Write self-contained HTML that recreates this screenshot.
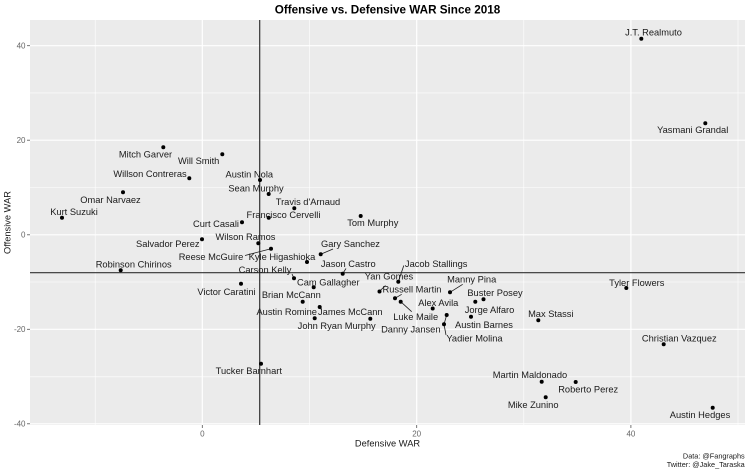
<!DOCTYPE html>
<html><head><meta charset="utf-8"><style>
html,body{margin:0;padding:0;background:#fff;}
svg{display:block;}
text{font-family:"Liberation Sans",Arial,sans-serif;}
.l{font-size:9.3px;fill:#1a1a1a;text-anchor:middle;}
.t{font-size:8px;fill:#666;}
</style></head><body>
<svg width="748" height="470" viewBox="0 0 748 470" xmlns="http://www.w3.org/2000/svg">
<rect x="0" y="0" width="748" height="470" fill="#fff"/>
<rect x="30" y="20" width="715" height="405" fill="#ebebeb"/>
<!-- minor grid -->
<g stroke="#fff" stroke-width="0.6">
<line x1="95.2" y1="20" x2="95.2" y2="425"/>
<line x1="309.5" y1="20" x2="309.5" y2="425"/>
<line x1="523.8" y1="20" x2="523.8" y2="425"/>
<line x1="738" y1="20" x2="738" y2="425"/>
<line x1="30" y1="92.9" x2="745" y2="92.9"/>
<line x1="30" y1="187.5" x2="745" y2="187.5"/>
<line x1="30" y1="282" x2="745" y2="282"/>
<line x1="30" y1="376.8" x2="745" y2="376.8"/>
</g>
<!-- major grid -->
<g stroke="#fff" stroke-width="1.2">
<line x1="202.3" y1="20" x2="202.3" y2="425"/>
<line x1="416.7" y1="20" x2="416.7" y2="425"/>
<line x1="630.9" y1="20" x2="630.9" y2="425"/>
<line x1="30" y1="45.7" x2="745" y2="45.7"/>
<line x1="30" y1="140.2" x2="745" y2="140.2"/>
<line x1="30" y1="234.8" x2="745" y2="234.8"/>
<line x1="30" y1="329.3" x2="745" y2="329.3"/>
<line x1="30" y1="423.8" x2="745" y2="423.8"/>
</g>
<!-- reference lines -->
<line x1="259.7" y1="20" x2="259.7" y2="425" stroke="#333" stroke-width="1.2"/>
<line x1="30" y1="272.7" x2="745" y2="272.7" stroke="#333" stroke-width="1.2"/>
<!-- ticks -->
<g stroke="#555" stroke-width="0.8">
<line x1="27" y1="45.7" x2="30" y2="45.7"/>
<line x1="27" y1="140.2" x2="30" y2="140.2"/>
<line x1="27" y1="234.8" x2="30" y2="234.8"/>
<line x1="27" y1="329.3" x2="30" y2="329.3"/>
<line x1="27" y1="423.8" x2="30" y2="423.8"/>
<line x1="202.3" y1="425" x2="202.3" y2="428"/>
<line x1="416.7" y1="425" x2="416.7" y2="428"/>
<line x1="630.9" y1="425" x2="630.9" y2="428"/>
</g>
<g class="t" text-anchor="end">
<text x="25.5" y="48.6">40</text>
<text x="25.5" y="143.1">20</text>
<text x="25.5" y="237.7">0</text>
<text x="25.5" y="332.2">-20</text>
<text x="25.5" y="426.7">-40</text>
</g>
<g class="t" text-anchor="middle">
<text x="202.3" y="436.5">0</text>
<text x="416.7" y="436.5">20</text>
<text x="630.9" y="436.5">40</text>
</g>
<!-- segments -->
<g stroke="#1a1a1a" stroke-width="0.8" fill="none">
<line x1="245" y1="255.5" x2="271" y2="248.7"/>
<line x1="320.7" y1="254.3" x2="333" y2="249"/>
<line x1="342.7" y1="273.7" x2="346" y2="268.5"/>
<line x1="292" y1="274" x2="294" y2="278.3"/>
<line x1="379.5" y1="291.3" x2="385.5" y2="285.5"/>
<line x1="398.3" y1="281.7" x2="403.8" y2="265.5"/>
<line x1="395" y1="298.3" x2="401.7" y2="294.3"/>
<line x1="400.7" y1="301.7" x2="411.7" y2="311.7"/>
<line x1="450" y1="292.3" x2="462.7" y2="284.3"/>
<line x1="446.7" y1="315" x2="444" y2="324.3"/>
<line x1="444" y1="324.3" x2="446" y2="335"/>
</g>
<!-- points -->
<g fill="#000">
<circle cx="641.3" cy="38.7" r="2"/>
<circle cx="705.3" cy="123.3" r="2"/>
<circle cx="163.3" cy="147.3" r="2"/>
<circle cx="222.3" cy="154.3" r="2"/>
<circle cx="189.3" cy="178.3" r="2"/>
<circle cx="260" cy="180" r="2"/>
<circle cx="268.7" cy="194" r="2"/>
<circle cx="123" cy="192.3" r="2"/>
<circle cx="294.3" cy="208.3" r="2"/>
<circle cx="62" cy="217.7" r="2"/>
<circle cx="268.7" cy="217.7" r="2"/>
<circle cx="242" cy="222.3" r="2"/>
<circle cx="360.7" cy="216" r="2"/>
<circle cx="258.3" cy="243.3" r="2"/>
<circle cx="202" cy="239.3" r="2"/>
<circle cx="271" cy="248.7" r="2"/>
<circle cx="307" cy="262" r="2"/>
<circle cx="320.7" cy="254.3" r="2"/>
<circle cx="342.7" cy="273.7" r="2"/>
<circle cx="294" cy="278.3" r="2"/>
<circle cx="313.7" cy="287.3" r="2"/>
<circle cx="241" cy="283.7" r="2"/>
<circle cx="120.7" cy="270.3" r="2"/>
<circle cx="302.7" cy="301.7" r="2"/>
<circle cx="319.7" cy="307" r="2"/>
<circle cx="314.7" cy="318.3" r="2"/>
<circle cx="370.3" cy="318.7" r="2"/>
<circle cx="261" cy="363.7" r="2"/>
<circle cx="379.5" cy="291.5" r="2"/>
<circle cx="398.3" cy="281.7" r="2"/>
<circle cx="395" cy="298.3" r="2"/>
<circle cx="400.7" cy="301.7" r="2"/>
<circle cx="432.7" cy="308.5" r="2"/>
<circle cx="450" cy="292.3" r="2"/>
<circle cx="483.5" cy="299.3" r="2"/>
<circle cx="475.3" cy="301.8" r="2"/>
<circle cx="471" cy="316.8" r="2"/>
<circle cx="444" cy="324.3" r="2"/>
<circle cx="446.7" cy="315" r="2"/>
<circle cx="538.3" cy="320.3" r="2"/>
<circle cx="626.3" cy="288" r="2"/>
<circle cx="663.7" cy="344.3" r="2"/>
<circle cx="541.7" cy="381.7" r="2"/>
<circle cx="575.7" cy="382" r="2"/>
<circle cx="545.7" cy="397.3" r="2"/>
<circle cx="712.7" cy="407.7" r="2"/>
</g>
<!-- labels -->
<g class="l">
<text x="653.5" y="35.5">J.T. Realmuto</text>
<text x="692.7" y="133.2">Yasmani Grandal</text>
<text x="145.5" y="157.5">Mitch Garver</text>
<text x="198.7" y="164.2">Will Smith</text>
<text x="150" y="176.9">Willson Contreras</text>
<text x="249.3" y="177.5">Austin Nola</text>
<text x="256" y="191.5">Sean Murphy</text>
<text x="110.5" y="202.9">Omar Narvaez</text>
<text x="308" y="205.2">Travis d'Arnaud</text>
<text x="74" y="215.2">Kurt Suzuki</text>
<text x="283.5" y="218.2">Francisco Cervelli</text>
<text x="216" y="226.9">Curt Casali</text>
<text x="372.8" y="225.9">Tom Murphy</text>
<text x="245.5" y="240.2">Wilson Ramos</text>
<text x="167.8" y="247.2">Salvador Perez</text>
<text x="211" y="259.9">Reese McGuire</text>
<text x="282" y="259.9">Kyle Higashioka</text>
<text x="350.5" y="247.2">Gary Sanchez</text>
<text x="348.3" y="267.2">Jason Castro</text>
<text x="265" y="272.9">Carson Kelly</text>
<text x="328.3" y="285.5">Cam Gallagher</text>
<text x="226.5" y="294.9">Victor Caratini</text>
<text x="133.7" y="267.5">Robinson Chirinos</text>
<text x="291.3" y="298.2">Brian McCann</text>
<text x="286.7" y="315.2">Austin Romine</text>
<text x="350.3" y="315.2">James McCann</text>
<text x="336.7" y="328.9">John Ryan Murphy</text>
<text x="248.8" y="374.2">Tucker Barnhart</text>
<text x="389" y="279.5">Yan Gomes</text>
<text x="436.2" y="267.2">Jacob Stallings</text>
<text x="412" y="292.5">Russell Martin</text>
<text x="415.7" y="319.9">Luke Maile</text>
<text x="438.3" y="305.9">Alex Avila</text>
<text x="471.7" y="282.5">Manny Pina</text>
<text x="495" y="296.2">Buster Posey</text>
<text x="489.5" y="313.2">Jorge Alfaro</text>
<text x="484" y="328.2">Austin Barnes</text>
<text x="410.8" y="332.5">Danny Jansen</text>
<text x="474.5" y="341.5">Yadier Molina</text>
<text x="550.8" y="317.2">Max Stassi</text>
<text x="636.8" y="285.9">Tyler Flowers</text>
<text x="679.3" y="341.5">Christian Vazquez</text>
<text x="530" y="378.2">Martin Maldonado</text>
<text x="588.2" y="392.5">Roberto Perez</text>
<text x="533.2" y="408.2">Mike Zunino</text>
<text x="700" y="418.2">Austin Hedges</text>
</g>
<!-- titles -->
<text x="387.5" y="13.7" text-anchor="middle" font-size="11.7" font-weight="bold" fill="#000">Offensive vs. Defensive WAR Since 2018</text>
<text x="387.5" y="446.5" text-anchor="middle" font-size="9.3" fill="#1a1a1a">Defensive WAR</text>
<text transform="translate(10.5,222.5) rotate(-90)" text-anchor="middle" font-size="9.3" fill="#1a1a1a">Offensive WAR</text>
<text x="744.7" y="458.3" text-anchor="end" font-size="7.3" fill="#1a1a1a">Data: @Fangraphs</text>
<text x="744.7" y="466.9" text-anchor="end" font-size="7.3" fill="#1a1a1a">Twitter: @Jake_Taraska</text>
</svg>
</body></html>
